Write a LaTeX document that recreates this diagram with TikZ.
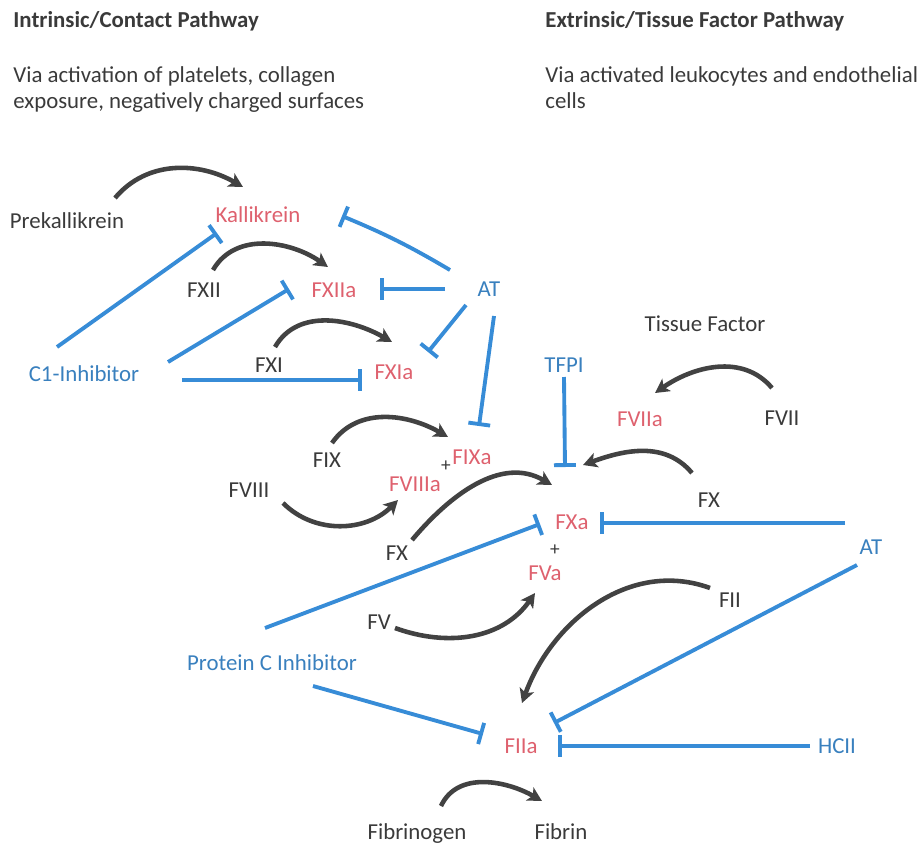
\documentclass[tikz,border=0pt]{standalone}
\usepackage{fontspec}
\setmainfont{Carlito}
\usepackage{tikz}
\usetikzlibrary{arrows.meta}

\definecolor{fgray}{RGB}{58,58,58}
\definecolor{agray}{RGB}{66,66,66}
\definecolor{fred}{RGB}{222,97,110}
\definecolor{fblue}{RGB}{57,128,190}
\definecolor{lblue}{RGB}{55,140,215}

\begin{document}
\begin{tikzpicture}[x=0.02cm,y=0.02cm,
    font=\fontsize{13}{15}\selectfont,
    every node/.style={inner sep=0pt,text height=8.4pt,text depth=0pt},
    fac/.style={text=fgray},
    act/.style={text=fred},
    inh/.style={text=fblue},
    ttl/.style={text=fgray,anchor=base west,font=\fontsize{13}{15}\selectfont\bfseries},
    desc/.style={text=fgray,anchor=base west},
    conv/.style={-{Stealth[length=8pt,width=8.5pt,inset=2pt]},line width=2.6pt,draw=agray},
    block/.style={-{Bar[width=12.5pt]},line width=2.2pt,draw=lblue}]

    \useasboundingbox (0,0) rectangle (924,-846);

    \node[ttl](ttlin) at (13,-27) {Intrinsic/Contact Pathway};
    \node[desc](descin1) at (13,-82) {Via activation of platelets, collagen};
    \node[desc](descin2) at (13,-108) {exposure, negatively charged surfaces};
    \node[ttl](ttlex) at (545,-27) {Extrinsic/Tissue Factor Pathway};
    \node[desc](descex1) at (545,-82) {Via activated leukocytes and endothelial};
    \node[desc](descex2) at (545,-108) {cells};

    \node[fac](pk) at (67,-221) {Prekallikrein};
    \node[act](kal) at (258,-215) {Kallikrein};
    \node[fac](fxii) at (204,-290) {FXII};
    \node[act](fxiia) at (334,-290) {FXIIa};
    \node[inh](at1) at (489,-289) {AT};
    \node[fac](fxi) at (269,-365) {FXI};
    \node[act](fxia) at (394,-372) {FXIa};
    \node[inh](c1) at (84,-374) {C1-Inhibitor};

    \node[fac](tf) at (705,-324) {Tissue Factor};
    \node[inh](tfpi) at (564,-365) {TFPI};
    \node[act](fviia) at (640,-419) {FVIIa};
    \node[fac](fvii) at (782,-418) {FVII};

    \node[fac](fix) at (327,-460) {FIX};
    \node[act](fixa) at (472,-457) {FIXa};
    \node[fac,font=\fontsize{11}{13}\selectfont](plusa) at (446,-464) {+};
    \node[act](fviiia) at (415,-484) {FVIIIa};
    \node[fac](fviii) at (249,-490) {FVIII};
    \node[fac](fxl) at (397,-553) {FX};
    \node[act](fxa) at (572,-522) {FXa};
    \node[fac,font=\fontsize{11}{13}\selectfont](plusb) at (555,-548) {+};
    \node[act](fva) at (545,-573) {FVa};
    \node[fac](fv) at (379,-622) {FV};
    \node[fac](fxr) at (709,-500) {FX};
    \node[inh](at2) at (871,-547) {AT};
    \node[fac](fii) at (730,-600) {FII};

    \node[inh](pci) at (272,-663) {Protein C Inhibitor};
    \node[act](fiia) at (521,-746) {FIIa};
    \node[inh](hcii) at (837,-746) {HCII};
    \node[fac](fbg) at (417,-832) {Fibrinogen};
    \node[fac](fbn) at (561,-832) {Fibrin};

    \draw[conv] ([shift={(48,23)}]pk.center) to[out=50,in=150] ([shift={(-15,28)}]kal.center);
    \draw[conv] ([shift={(9,20)}]fxii.center) to[out=60,in=145] ([shift={(-6,23)}]fxiia.center);
    \draw[conv] ([shift={(6,18)}]fxi.center) to[out=60,in=150] ([shift={(-2,30)}]fxia.center);
    \draw[conv] ([shift={(-10,30)}]fvii.center) to[out=130,in=35] ([shift={(15,26)}]fviia.center);
    \draw[conv] ([shift={(-17,27)}]fxr.center) to[out=130,in=20] ([shift={(11,57)}]fxa.center);
    \draw[conv] ([shift={(5,17)}]fix.center) to[out=55,in=150] ([shift={(-24,20)}]fixa.center);
    \draw[conv] ([shift={(34,-13)}]fviii.center) to[out=-45,in=225] ([shift={(-17,-16)}]fviiia.center);
    \draw[conv] ([shift={(15,13)}]fxl.center) to[out=50,in=150] ([shift={(-20,37)}]fxa.center);
    \draw[conv] ([shift={(16,-6)}]fv.center) to[out=-20,in=235] ([shift={(-10,-20)}]fva.center);
    \draw[conv] ([shift={(-20,12)}]fii.center) to[out=160,in=70] ([shift={(1,43)}]fiia.center);
    \draw[conv] ([shift={(24,26)}]fbg.center) to[out=65,in=150] ([shift={(-19,31)}]fbn.center);

    \draw[block] ([shift={(-39,19)}]at1.center) to[bend right=4] ([shift={(84,-1)}]kal.center);
    \draw[block] ([shift={(-44,0)}]at1.center) -- ([shift={(46,1)}]fxiia.center);
    \draw[block] ([shift={(-23,-16)}]at1.center) -- ([shift={(34,20)}]fxia.center);
    \draw[block] ([shift={(5,-27)}]at1.center) -- ([shift={(7,31)}]fixa.center);
    \draw[block] ([shift={(-27,27)}]c1.center) -- ([shift={(-41,-18)}]kal.center);
    \draw[block] ([shift={(84,12)}]c1.center) -- ([shift={(-45,1)}]fxiia.center);
    \draw[block] ([shift={(98,-6)}]c1.center) -- ([shift={(-32,-8)}]fxia.center);
    \draw[block] ([shift={(0,-12)}]tfpi.center) -- ([shift={(-7,55)}]fxa.center);
    \draw[block] ([shift={(-26,24)}]at2.center) -- ([shift={(28,-1)}]fxa.center);
    \draw[block] ([shift={(-7,35)}]pci.center) -- ([shift={(-32,-2)}]fxa.center);
    \draw[block] ([shift={(41,-23)}]pci.center) -- ([shift={(-38,12)}]fiia.center);
    \draw[block] ([shift={(-14,-18)}]at2.center) -- ([shift={(33,23)}]fiia.center);
    \draw[block] ([shift={(-27,0)}]hcii.center) -- ([shift={(37,0)}]fiia.center);

\end{tikzpicture}
\end{document}
